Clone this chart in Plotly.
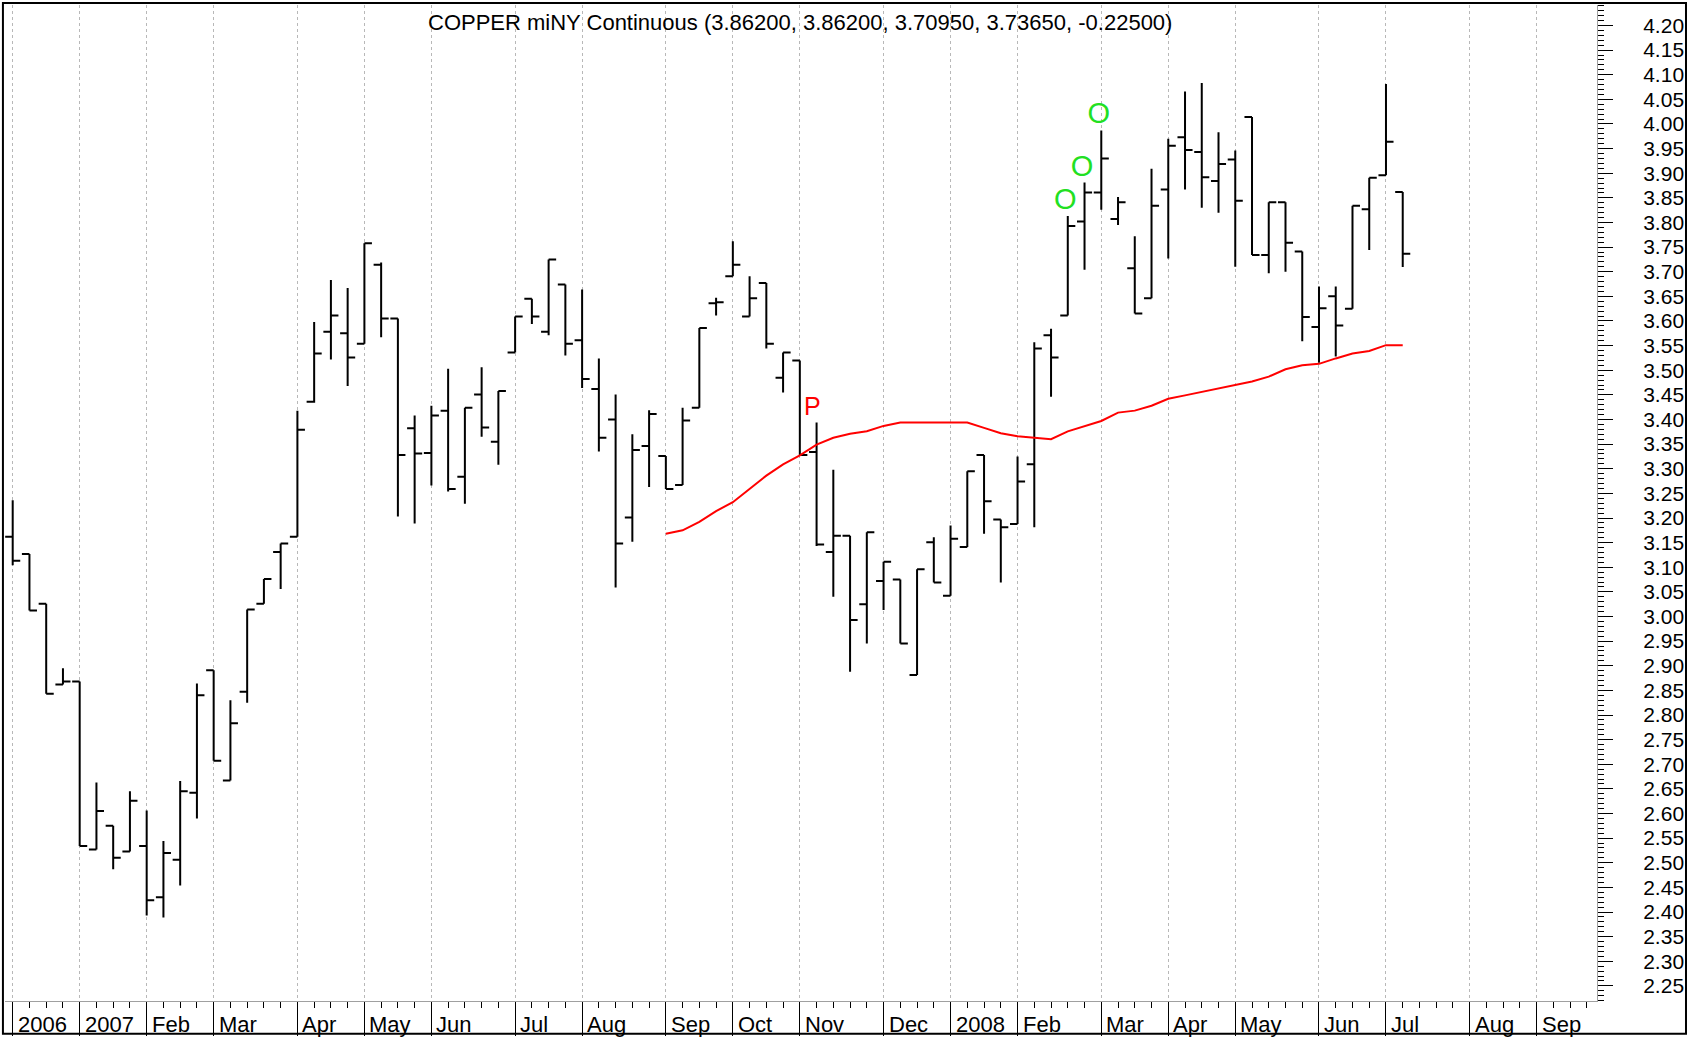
"""
COPPER miNY Continuous - weekly OHLC bar chart with moving average
"""

import numpy as np
import plotly.graph_objects as go

# weekly bars, Dec 2006 .. Jul 2008
opens = [3.162, 3.127, 3.026, 2.862, 2.868, 2.527, 2.575, 2.523, 2.534, 2.430,
         2.506, 2.642, 2.891, 2.667, 2.847, 3.026, 3.131, 3.162, 3.436, 3.578,
         3.575, 3.554, 3.714, 3.605, 3.382, 3.332, 3.418, 3.284, 3.451, 3.355,
         3.536, 3.645, 3.578, 3.674, 3.561, 3.462, 3.400, 3.201, 3.346, 3.326,
         3.267, 3.424, 3.636, 3.691, 3.609, 3.677, 3.485, 3.520, 3.334, 3.131,
         3.164, 3.025, 3.072, 3.075, 2.881, 3.151, 3.042, 3.141, 3.328, 3.197,
         3.188, 3.309, 3.571, 3.611, 3.802, 3.861, 3.807, 3.707, 3.646, 3.867,
         3.973, 3.943, 3.884, 3.928, 4.014, 3.734, 3.841, 3.741, 3.588, 3.650,
         3.625, 3.827, 3.896, 3.862]
highs = [3.236, 3.127, 3.026, 2.895, 2.868, 2.663, 2.575, 2.645, 2.606, 2.544,
         2.666, 2.864, 2.891, 2.830, 3.014, 3.076, 3.148, 3.418, 3.598, 3.683,
         3.667, 3.758, 3.719, 3.605, 3.408, 3.428, 3.503, 3.424, 3.506, 3.458,
         3.609, 3.645, 3.725, 3.674, 3.664, 3.524, 3.451, 3.370, 3.419, 3.326,
         3.424, 3.586, 3.647, 3.762, 3.691, 3.677, 3.536, 3.520, 3.394, 3.298,
         3.164, 3.171, 3.111, 3.075, 3.096, 3.161, 3.185, 3.295, 3.328, 3.197,
         3.325, 3.557, 3.584, 3.813, 3.881, 3.987, 3.852, 3.772, 3.909, 3.970,
         4.066, 4.083, 3.983, 3.946, 4.014, 3.841, 3.841, 3.741, 3.670, 3.670,
         3.834, 3.891, 4.081, 3.862]
lows = [3.104, 3.012, 2.843, 2.862, 2.534, 2.527, 2.487, 2.523, 2.393, 2.389,
        2.454, 2.590, 2.707, 2.667, 2.825, 3.026, 3.056, 3.162, 3.434, 3.522,
        3.468, 3.554, 3.567, 3.203, 3.189, 3.266, 3.254, 3.229, 3.365, 3.308,
        3.536, 3.594, 3.571, 3.530, 3.464, 3.335, 3.059, 3.152, 3.263, 3.259,
        3.267, 3.424, 3.611, 3.691, 3.609, 3.544, 3.455, 3.328, 3.143, 3.040,
        2.888, 2.945, 3.013, 2.945, 2.881, 3.069, 3.042, 3.141, 3.168, 3.069,
        3.188, 3.181, 3.446, 3.611, 3.704, 3.826, 3.795, 3.615, 3.646, 3.727,
        3.867, 3.830, 3.820, 3.710, 3.734, 3.697, 3.700, 3.559, 3.515, 3.528,
        3.625, 3.744, 3.896, 3.7095]
closes = [3.113, 3.012, 2.843, 2.868, 2.534, 2.605, 2.510, 2.626, 2.424, 2.520,
          2.645, 2.840, 2.707, 2.783, 3.014, 3.076, 3.148, 3.379, 3.534, 3.611,
          3.526, 3.758, 3.605, 3.328, 3.331, 3.408, 3.259, 3.424, 3.384, 3.458,
          3.609, 3.609, 3.725, 3.554, 3.482, 3.363, 3.148, 3.338, 3.411, 3.259,
          3.398, 3.586, 3.638, 3.714, 3.646, 3.554, 3.536, 3.328, 3.146, 3.164,
          2.993, 3.171, 3.111, 2.945, 3.096, 3.069, 3.158, 3.295, 3.234, 3.181,
          3.274, 3.544, 3.526, 3.793, 3.861, 3.930, 3.841, 3.615, 3.834, 3.956,
          3.947, 3.892, 3.919, 3.844, 3.734, 3.841, 3.759, 3.608, 3.626, 3.591,
          3.834, 3.891, 3.964, 3.7365]

# moving average (red line), starts at week 39
ma_start = 39
ma_values = [3.168, 3.175, 3.192, 3.214, 3.232, 3.259, 3.286, 3.309, 3.327, 3.349,
             3.363, 3.371, 3.376, 3.387, 3.394, 3.394, 3.394, 3.394, 3.394, 3.383,
             3.372, 3.366, 3.363, 3.360, 3.376, 3.386, 3.397, 3.414, 3.418, 3.428,
             3.442, 3.449, 3.456, 3.463, 3.470, 3.477, 3.487, 3.502, 3.510, 3.513,
             3.524, 3.534, 3.539, 3.551, 3.551]

# signal letters
signal_text = ["P", "O", "O", "O"]
signal_x = [47.75, 62.85, 63.85, 64.85]
signal_y = [3.422, 3.842, 3.909, 4.016]
signal_colors = ["#ff0000", "#22e022", "#22e022", "#22e022"]
signal_sizes = [25, 29, 29, 29]

# x-axis months and number of weekly bars in each
month_labels = ["2006", "2007", "Feb", "Mar", "Apr", "May", "Jun", "Jul", "Aug", "Sep",
                "Oct", "Nov", "Dec", "2008", "Feb", "Mar", "Apr", "May", "Jun", "Jul",
                "Aug", "Sep"]
month_weeks = [4, 4, 4, 5, 4, 4, 5, 4, 5, 4, 4, 5, 4, 4, 5, 4, 4, 5, 4, 5, 4, 4]

title_text = "COPPER miNY Continuous (3.86200, 3.86200, 3.70950, 3.73650, -0.22500)"

FONT = "Liberation Sans, Arial, sans-serif"

weeks = list(range(len(closes)))
month_starts = list(np.cumsum([0] + month_weeks[:-1]))

fig = go.Figure()

fig.add_trace(go.Ohlc(
    x=weeks, open=opens, high=highs, low=lows, close=closes,
    increasing=dict(line=dict(color='black', width=2)),
    decreasing=dict(line=dict(color='black', width=2)),
    tickwidth=0.45,
    showlegend=False
))

fig.add_trace(go.Scatter(
    x=list(range(ma_start, ma_start + len(ma_values))),
    y=ma_values,
    mode='lines',
    line=dict(color='#ff0000', width=2),
    showlegend=False
))

fig.add_trace(go.Scatter(
    x=signal_x, y=signal_y, text=signal_text,
    mode='text',
    textposition='middle center',
    textfont=dict(family=FONT, size=signal_sizes, color=signal_colors),
    showlegend=False
))

# month labels under the axis
annotations = []
for lab, start in zip(month_labels, month_starts):
    annotations.append(dict(
        x=start, y=-0.024, xref='x', yref='paper',
        text=lab, showarrow=False, xanchor='left', yanchor='middle',
        xshift=3, font=dict(family=FONT, size=22, color='black')
    ))

annotations.append(dict(
    x=0.4996, y=0.9825, xref='paper', yref='paper',
    text=title_text, showarrow=False, xanchor='center', yanchor='middle',
    font=dict(family=FONT, size=22, color='black')
))

fig.update_layout(
    width=1689, height=1040,
    margin=dict(l=5, r=92, t=5, b=35),
    paper_bgcolor='white',
    plot_bgcolor='white',
    annotations=annotations,
    shapes=[dict(type='rect', xref='paper', yref='paper',
                 x0=-0.0013, x1=1.0559, y0=-0.033, y1=1.002,
                 line=dict(color='black', width=2))],
    showlegend=False
)

fig.update_xaxes(
    range=[-0.46, 94.6],
    tickvals=month_starts,
    showticklabels=False,
    ticks='outside', ticklen=34, tickcolor='black', tickwidth=1,
    showgrid=True, gridcolor='#b8b8b8', griddash='dot', gridwidth=1,
    zeroline=False,
    showline=True, linecolor='#a0a0a0', linewidth=1,
    minor=dict(dtick=1, tick0=0, ticks='outside', ticklen=6,
               tickcolor='black', showgrid=False),
    rangeslider=dict(visible=False)
)

fig.update_yaxes(
    side='right',
    range=[2.2193, 4.2416],
    tick0=0, dtick=0.05, tickformat='.2f',
    ticks='outside', ticklen=15, tickcolor='black', tickwidth=1,
    ticklabelstandoff=26,
    tickfont=dict(family=FONT, size=21, color='black'),
    showgrid=False, zeroline=False,
    showline=True, linecolor='#a0a0a0', linewidth=1,
    minor=dict(dtick=0.01, ticks='outside', ticklen=6, tickcolor='black',
               showgrid=False)
)

# page has a default body margin; drop it so the figure fills the window
fig.write_html("out.html", config={'displayModeBar': False},
               post_script="document.body.style.margin='0px';")
